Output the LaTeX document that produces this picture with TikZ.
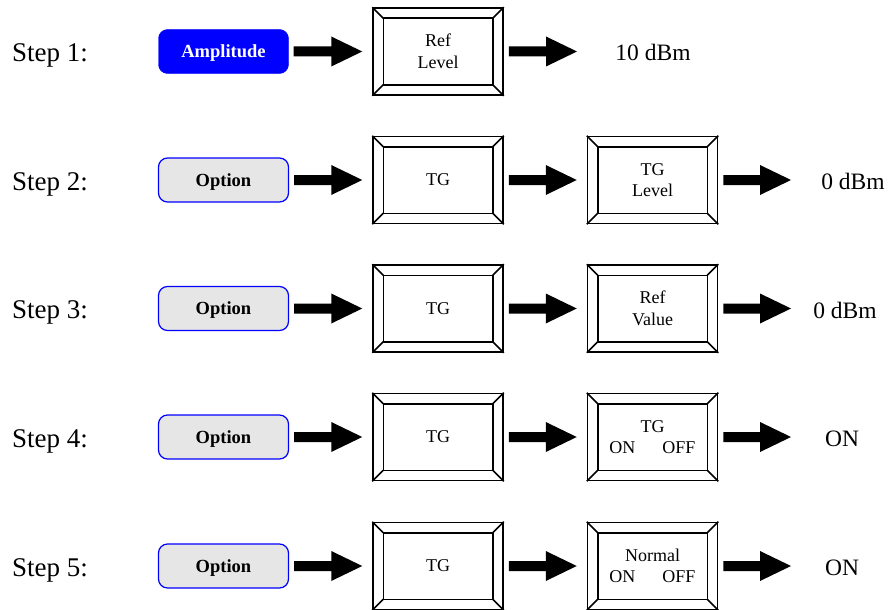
\documentclass[tikz,border=0pt]{standalone}
\usepackage{fontspec}
\setmainfont{Liberation Serif}
\usetikzlibrary{calc}
\definecolor{optgray}{HTML}{E6E6E6}
\tikzset{
  steplabel/.style={anchor=base west, inner sep=0pt, font=\fontsize{27}{31}\selectfont},
  result/.style={anchor=base, inner sep=0pt, font=\fontsize{23.5}{28}\selectfont},
  btnbase/.style={rounded corners=9pt, minimum width=130pt, minimum height=44pt, inner sep=0pt,
    text height=12pt, text depth=0pt, font=\fontsize{18.5}{22}\selectfont\bfseries},
  btnamp/.style={btnbase, fill=blue, draw=blue, text=white},
  btnopt/.style={btnbase, fill=optgray, draw=blue, line width=1.2pt, text=black},
  keybox/.style={draw, line width=1.5pt, minimum width=130pt, minimum height=87pt, inner sep=0pt,
    align=center, font=\fontsize{18}{21.5}\selectfont},
  keyline/.style={line width=1.5pt},
  fatfill/.style={fill=black}
}
\newcommand\keydeco[1]{%
  \draw[keyline] ([shift={(11,11)}]#1.north west) rectangle ([shift={(-11,-11)}]#1.south east);
  \draw[keyline] (#1.north west) -- ([shift={(11,11)}]#1.north west)
                 (#1.north east) -- ([shift={(-11,11)}]#1.north east)
                 (#1.south west) -- ([shift={(11,-11)}]#1.south west)
                 (#1.south east) -- ([shift={(-11,-11)}]#1.south east);
}
\newcommand\fatarrow[2]{%
  \fill[fatfill] let \p1=(#1.east), \p2=(#2) in
    ({\x1+5pt},{\y1+5pt}) -- ({\x2-31pt},{\y1+5pt}) -- ({\x2-31pt},{\y1+15pt}) -- ({\x2},{\y1})
    -- ({\x2-31pt},{\y1-15pt}) -- ({\x2-31pt},{\y1-5pt}) -- ({\x1+5pt},{\y1-5pt}) -- cycle;
}
\begin{document}
\begin{tikzpicture}[x=1pt,y=-1pt]
\useasboundingbox (0,0) rectangle (891,610);
% Row 1
\node[steplabel] (s1) at (12,61.5) {Step 1:};
\node[btnamp] (b1) at (223.5,51.5) {Amplitude};
\node[keybox] (k1) at (438,51.5) {Ref\\Level};
\keydeco{k1}
\coordinate (t1) at (577,51.5);
\node[result] (r1) at (653,61) {10 dBm};
\fatarrow{b1}{[xshift=-10pt]k1.west}
\fatarrow{k1}{t1}
% Rows 2-5
\foreach \i/\y/\txt/\res/\rx in {
  2/180/{TG\\Level}/{0 dBm}/853,
  3/308.5/{Ref\\Value}/{0 dBm}/845,
  4/437/{TG\\ON\hspace{27pt}OFF}/{ON}/842,
  5/566/{Normal\\ON\hspace{27pt}OFF}/{ON}/842}{
  \node[steplabel] (s\i) at (12,\y+10) {Step \i:};
  \node[btnopt] (b\i) at (223.5,\y) {Option};
  \node[keybox] (k\i) at (438,\y) {TG};
  \keydeco{k\i}
  \node[keybox] (m\i) at (652.5,\y) {\txt};
  \keydeco{m\i}
  \coordinate (t\i) at (791,\y);
  \node[result] (r\i) at (\rx,\y+9.5) {\res};
  \fatarrow{b\i}{[xshift=-10pt]k\i.west}
  \fatarrow{k\i}{[xshift=-10pt]m\i.west}
  \fatarrow{m\i}{t\i}
}
\end{tikzpicture}
\end{document}
